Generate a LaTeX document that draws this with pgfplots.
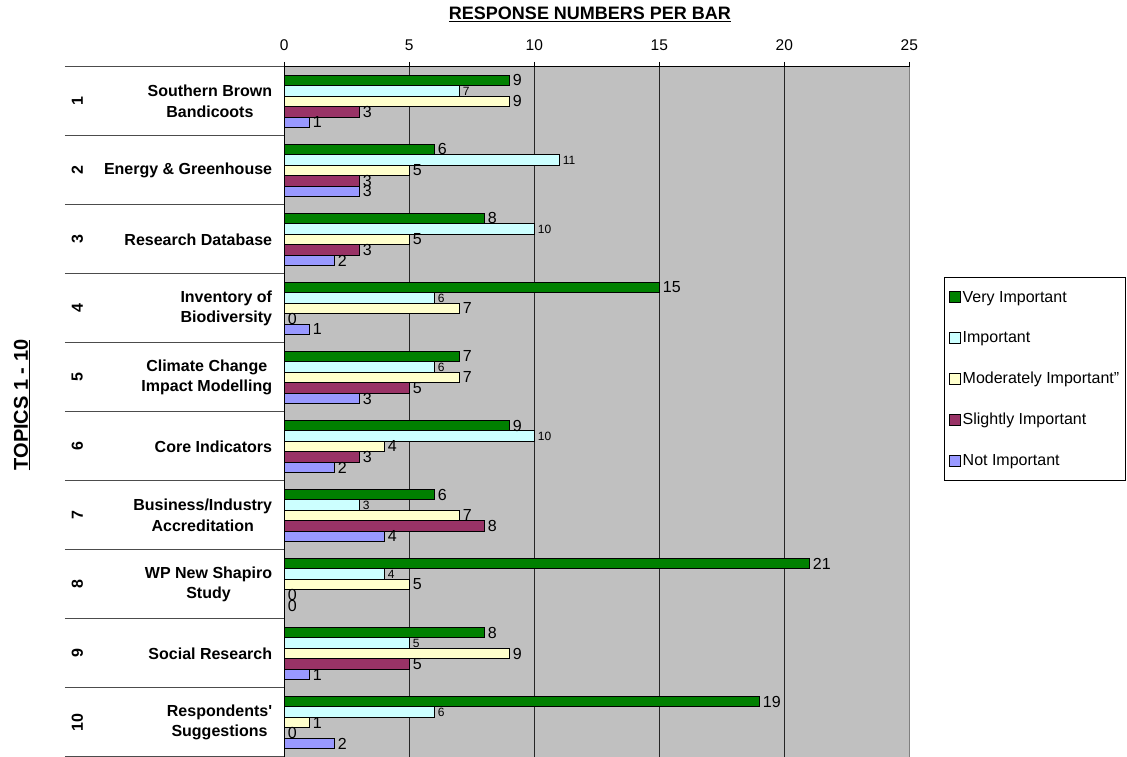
\documentclass[border=0pt]{standalone}
\usepackage{pgfplots}
\pgfplotsset{compat=1.18}
\usepackage{fontspec}
\setmainfont{Liberation Sans}
\definecolor{cVI}{HTML}{008000}
\definecolor{cI}{HTML}{CCFFFF}
\definecolor{cMI}{HTML}{FFFFCC}
\definecolor{cSI}{HTML}{993366}
\definecolor{cNI}{HTML}{9999FF}
\definecolor{bg}{HTML}{C0C0C0}
\pgfplotsset{
  sq/.style={legend image code/.code={\draw[##1, draw=black, line width=1pt] (0pt,-5.5pt) rectangle (11pt,5.5pt);}},
  lab/.style={nodes near coords, nodes near coords style={anchor=west, inner sep=3pt, font=\fontsize{#1}{#1}\selectfont, text=black}},
}
\begin{document}
\begin{tikzpicture}
\useasboundingbox (-284.3pt,0pt) rectangle (842.7pt,757pt);
\begin{axis}[
  at={(0pt,0pt)}, anchor=south west,
  xbar, bar width=10.5pt,
  scale only axis, width=625pt, height=690pt,
  xmin=0, xmax=25, ymin=0.5, ymax=10.5,
  axis x line*=top, axis y line*=left,
  axis line style={black, line width=1pt},
  xtick={0,5,...,25}, ytick={1,...,10},
  yticklabels={{Respondents\textquotesingle\\Suggestions}, {Social Research}, {WP New Shapiro\\Study}, {Business/Industry\\Accreditation}, {Core Indicators}, {Climate Change\\Impact Modelling}, {Inventory of\\Biodiversity}, {Research Database}, {Energy \& Greenhouse}, {Southern Brown\\Bandicoots}},
  yticklabel style={align=center, font=\bfseries\fontsize{16}{20.5}\selectfont, inner sep=0pt, xshift=-7pt},
  ytick style={draw=none},
  xticklabel style={font=\fontsize{15.5}{15.5}\selectfont, yshift=8pt},
  /pgf/number format/assume math mode=true,
  tick align=outside, major tick length=5pt,
  xtick style={black, line width=1pt},
  xmajorgrids, grid style={black!85, line width=0.9pt},
  axis background/.style={fill=bg},
  clip=false,
  legend cell align=left,
  legend style={at={(axis description cs:1.056,0.696)}, anchor=north west, draw=black, line width=0.8pt, fill=white,
    font=\fontsize{16}{19}\selectfont, row sep=24pt, inner ysep=12pt, inner xsep=4pt},
]
\addplot[fill=cVI, draw=black, line width=1.2pt, bar shift=21pt, sq, lab=16] coordinates {(9,10) (6,9) (8,8) (15,7) (7,6) (9,5) (6,4) (21,3) (8,2) (19,1)};
\addplot[fill=cI, draw=black, line width=1.2pt, bar shift=10.5pt, sq, lab=12] coordinates {(7,10) (11,9) (10,8) (6,7) (6,6) (10,5) (3,4) (4,3) (5,2) (6,1)};
\addplot[fill=cMI, draw=black, line width=1.2pt, bar shift=0pt, sq, lab=16] coordinates {(9,10) (5,9) (5,8) (7,7) (7,6) (4,5) (7,4) (5,3) (9,2) (1,1)};
\addplot[fill=cSI, draw=black, line width=1.2pt, bar shift=-10.5pt, sq, lab=16] coordinates {(3,10) (3,9) (3,8) (0,7) (5,6) (3,5) (8,4) (0,3) (5,2) (0,1)};
\addplot[fill=cNI, draw=black, line width=1.2pt, bar shift=-21pt, sq, lab=16] coordinates {(1,10) (3,9) (2,8) (1,7) (3,6) (2,5) (4,4) (0,3) (1,2) (2,1)};
\legend{Very Important, Important, Moderately Important", Slightly Important, Not Important}
\pgfplotsinvokeforeach{0,...,10}{\draw[black!70, line width=1pt] ([xshift=-219.3pt]axis cs:0,#1.5) -- (axis cs:0,#1.5);}
\draw[black!50, line width=1pt] (axis cs:25,0.5) -- (axis cs:25,10.5);
\draw[black, line width=1pt] (axis cs:0,0.5) -- (axis cs:0,10.5);
\node[rotate=90, font=\bfseries\fontsize{16}{20}\selectfont] at ([xshift=-207pt]axis cs:0,10) {1};
\node[rotate=90, font=\bfseries\fontsize{16}{20}\selectfont] at ([xshift=-207pt]axis cs:0,9) {2};
\node[rotate=90, font=\bfseries\fontsize{16}{20}\selectfont] at ([xshift=-207pt]axis cs:0,8) {3};
\node[rotate=90, font=\bfseries\fontsize{16}{20}\selectfont] at ([xshift=-207pt]axis cs:0,7) {4};
\node[rotate=90, font=\bfseries\fontsize{16}{20}\selectfont] at ([xshift=-207pt]axis cs:0,6) {5};
\node[rotate=90, font=\bfseries\fontsize{16}{20}\selectfont] at ([xshift=-207pt]axis cs:0,5) {6};
\node[rotate=90, font=\bfseries\fontsize{16}{20}\selectfont] at ([xshift=-207pt]axis cs:0,4) {7};
\node[rotate=90, font=\bfseries\fontsize{16}{20}\selectfont] at ([xshift=-207pt]axis cs:0,3) {8};
\node[rotate=90, font=\bfseries\fontsize{16}{20}\selectfont] at ([xshift=-207pt]axis cs:0,2) {9};
\node[rotate=90, font=\bfseries\fontsize{16}{20}\selectfont] at ([xshift=-207pt]axis cs:0,1) {10};
\end{axis}
\node[font=\bfseries\fontsize{18}{20}\selectfont] at (305.7pt,743pt) {\underline{RESPONSE NUMBERS PER BAR}};
\node[rotate=90, font=\bfseries\fontsize{20}{22}\selectfont] at (-262.3pt,352pt) {\underline{TOPICS 1 - 10}};
\end{tikzpicture}
\end{document}
